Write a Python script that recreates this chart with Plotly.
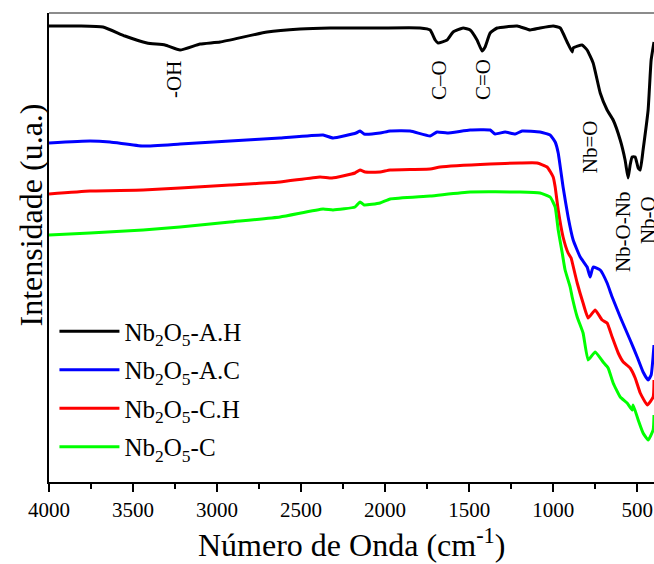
import plotly.graph_objects as go

# Wavenumbers (cm-1) and intensities (a.u.)
wn_AH = [4000, 3815, 3679, 3548, 3417, 3310, 3220, 3101, 2982, 2702, 2506, 2327, 2030, 1792, 1732, 1702, 1685,
         1631, 1595, 1536, 1494, 1453, 1423, 1405, 1375, 1333, 1214, 1137, 1078, 1000, 958, 917, 887, 881,
         828, 798, 762, 720, 679, 643, 601, 572, 554, 542, 530, 512, 494, 482, 465, 435, 417, 400]
int_AH = [456, 456, 455, 446, 439, 437, 432, 438, 440, 450, 453, 454, 454, 454, 452, 442, 439,
          442, 450, 454, 452, 442, 431, 435, 449, 454, 456, 452, 454, 456, 454, 440, 430, 434,
          437, 432, 419, 389, 372, 362, 342, 322, 304, 317, 325, 325, 314, 312, 332, 372, 422, 440]

wn_AC = [4000, 3756, 3637, 3440, 3220, 2923, 2625, 2369, 2310, 2173, 2149, 2125, 2030, 1970, 1851, 1732, 1691,
         1631, 1494, 1375, 1345, 1286, 1226, 1185, 1078, 1018, 988, 970, 941, 911, 881, 839, 798, 780, 762,
         720, 679, 649, 601, 542, 500, 465, 435, 417, 400]
int_AC = [339, 341, 340, 336, 338, 341, 344, 347, 344, 349, 351, 348, 349, 351, 351, 346, 350,
          349, 352, 352, 348, 350, 348, 351, 350, 347, 340, 329, 295, 265, 242, 225, 215, 205, 215,
          212, 199, 185, 165, 142, 125, 110, 102, 107, 137]

wn_CH = [4000, 3756, 3440, 3220, 2923, 2625, 2387, 2316, 2179, 2149, 2119, 2030, 1970, 1732, 1673, 1375, 1197,
         1095, 1036, 1000, 988, 970, 941, 911, 893, 887, 857, 822, 792, 750, 709, 679, 649, 613, 583, 542,
         512, 482, 440, 405, 400]
int_CH = [288, 291, 292, 294, 297, 300, 305, 304, 309, 312, 310, 310, 312, 313, 315, 318, 319,
          319, 315, 305, 295, 272, 245, 229, 224, 220, 199, 179, 164, 172, 162, 159, 145, 129, 120, 114,
          104, 89, 77, 85, 102]

wn_C = [4000, 3756, 3440, 3220, 2923, 2625, 2369, 2310, 2179, 2149, 2125, 2030, 1970, 1732, 1494, 1197, 1078,
        1018, 988, 970, 946, 929, 899, 887, 857, 822, 792, 750, 703, 673, 643, 601, 560, 530, 524, 494,
        465, 435, 405, 400]
int_C = [247, 249, 252, 255, 260, 265, 273, 272, 275, 280, 277, 279, 283, 286, 290, 290, 289,
         285, 275, 252, 229, 212, 195, 185, 165, 149, 122, 130, 120, 114, 99, 85, 79, 72, 77, 62,
         49, 42, 52, 67]

series_names = ["Nb<sub>2</sub>O<sub>5</sub>-A.H", "Nb<sub>2</sub>O<sub>5</sub>-A.C",
                "Nb<sub>2</sub>O<sub>5</sub>-C.H", "Nb<sub>2</sub>O<sub>5</sub>-C"]
series_colors = ["#000000", "#0000FF", "#FF0000", "#00FF00"]

label_texts = ["-OH", "C–O", "C=O", "Nb=O", "Nb-O-Nb", "Nb-O"]
label_wn = [3256, 1679, 1417, 780, 584, 435]
label_int = [402, 402, 402, 335, 250, 262]

FONT = "Liberation Serif"

fig = go.Figure()
for i, (wn, it, name, col) in enumerate(zip([wn_AH, wn_AC, wn_CH, wn_C], [int_AH, int_AC, int_CH, int_C],
                                            series_names, series_colors)):
    fig.add_trace(go.Scatter(x=wn, y=it, mode="lines", name=name, legendgroup=f"g{i}",
                             line=dict(color=col, width=3, shape="spline", smoothing=0.4)))

for t, x, y in zip(label_texts, label_wn, label_int):
    fig.add_annotation(x=x, y=y, text=t, textangle=-90, showarrow=False,
                       font=dict(family=FONT, size=21, color="black"))

fig.add_annotation(xref="paper", yref="paper", x=-0.03, y=0.57, xanchor="center", yanchor="middle",
                   text="Intensidade (u.a.)", textangle=-90, showarrow=False,
                   font=dict(family=FONT, size=32, color="black"))
fig.add_annotation(xref="paper", yref="paper", x=0.5, y=-0.13, xanchor="center", yanchor="middle",
                   text="Número de Onda (cm<sup>-1</sup>)", showarrow=False,
                   font=dict(family=FONT, size=32, color="black"))

fig.add_shape(type="line", xref="paper", yref="paper", x0=0, x1=1, y0=1, y1=1,
              line=dict(color="#666666", width=1.5))

fig.update_layout(
    width=654, height=564,
    margin=dict(l=49, r=0, t=13, b=82),
    paper_bgcolor="white", plot_bgcolor="white",
    font=dict(family=FONT, color="black"),
    showlegend=True,
    legend=dict(x=0.009, y=0.37, xanchor="left", yanchor="top", bgcolor="rgba(0,0,0,0)",
                itemwidth=60, tracegroupgap=3,
                font=dict(family=FONT, size=25, color="black")),
    xaxis=dict(range=[4000, 400], tickvals=[4000, 3500, 3000, 2500, 2000, 1500, 1000, 500],
               ticks="outside", ticklen=8, tickwidth=2, tickcolor="black",
               showline=True, linewidth=2, linecolor="black", showgrid=False, zeroline=False,
               tickfont=dict(family=FONT, size=21, color="black"),
               minor=dict(tickvals=[3750, 3250, 2750, 2250, 1750, 1250, 750], ticks="outside",
                          ticklen=5, tickwidth=2, tickcolor="black")),
    yaxis=dict(range=[0, 469], showticklabels=False, ticks="", showline=True, linewidth=2,
               linecolor="black", showgrid=False, zeroline=False),
)

fig.write_html("out.html")
